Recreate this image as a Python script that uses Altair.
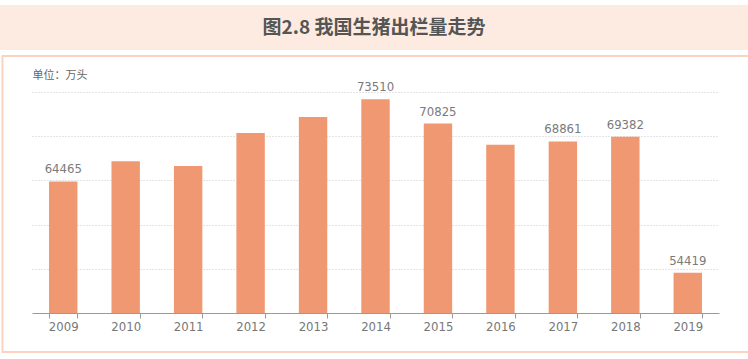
import altair as alt
import pandas as pd

# ---- data ----
years = ["2009", "2010", "2011", "2012", "2013", "2014", "2015", "2016", "2017", "2018", "2019"]
values = [64465, 66686, 66170, 69789, 71557, 73510, 70825, 68502, 68861, 69382, 54419]
labelled = [True, False, False, False, False, True, True, False, True, True, True]

title_text = "图2.8 我国生猪出栏量走势"
unit_text = "单位：万头"

y_min, y_max = 50000, 74300
grid_values = [y_min + i * (y_max - y_min) / 5 for i in range(1, 6)]

df = pd.DataFrame({
    "year": years,
    "value": values,
    "label": [str(v) if s else "" for v, s in zip(values, labelled)],
})

NUM_FONT = "Liberation Sans Narrow, DejaVu Sans Condensed, Roboto, sans-serif"
CJK_FONT = "Noto Sans CJK SC"
BAR = "#F09872"

one = alt.Data(values=[{"k": 1}])

banner = alt.Chart(one).mark_rect(fill="#FDEBE1", stroke=None).encode(
    x=alt.value(-32), x2=alt.value(716), y=alt.value(-87), y2=alt.value(-42)
)

frame = alt.Chart(one).mark_rect(fill="transparent", stroke="#FBD3BE", strokeWidth=2).encode(
    x=alt.value(-29.5), x2=alt.value(740), y=alt.value(-36), y2=alt.value(260)
)

title = alt.Chart(one).mark_text(
    font=CJK_FONT, fontSize=19, fontWeight="bold", color="#555555",
    align="center", baseline="middle"
).encode(x=alt.value(342), y=alt.value(-64.5), text=alt.value(title_text))

x_enc = alt.X(
    "year:N", sort=years,
    scale=alt.Scale(paddingInner=0.545, paddingOuter=0.2725),
    axis=alt.Axis(
        title=None, labelAngle=0, tickBand="extent", ticks=True, tickSize=5,
        tickColor="#9A9A9A", domainColor="#9A9A9A", domainWidth=1,
        labelColor="#777777", labelFontSize=13, labelFont=NUM_FONT, labelPadding=2,
        grid=False, zindex=1,
    ),
)

y_enc = alt.Y(
    "value:Q",
    scale=alt.Scale(domain=[y_min, y_max], zero=False, nice=False),
    axis=alt.Axis(
        title=unit_text, values=grid_values, labels=False, ticks=False, domain=False,
        grid=True, gridColor="#C8C8C8", gridDash=[1, 2], gridWidth=1,
        titleAngle=0, titleX=0, titleY=-17, titleAlign="left", titleBaseline="middle",
        titleFont=CJK_FONT, titleFontSize=11, titleFontWeight="normal", titleColor="#666666",
    ),
)

bars = alt.Chart(df).mark_bar(color=BAR).encode(x=x_enc, y=y_enc, y2=alt.datum(y_min))

texts = alt.Chart(df).mark_text(
    baseline="bottom", dy=-5, font=NUM_FONT, fontSize=13, color="#7A7A7A"
).encode(x=alt.X("year:N", sort=years), y=alt.Y("value:Q"), text="label:N")

chart = alt.layer(banner, frame, title, bars, texts).properties(
    width=687, height=221,
    autosize=alt.AutoSizeParams(type="none"),
    padding={"left": 32, "top": 92, "right": 29, "bottom": 46},
    background="white",
).configure_view(stroke=None)

chart.save("out.html", embed_options={"renderer": "svg", "actions": False})
